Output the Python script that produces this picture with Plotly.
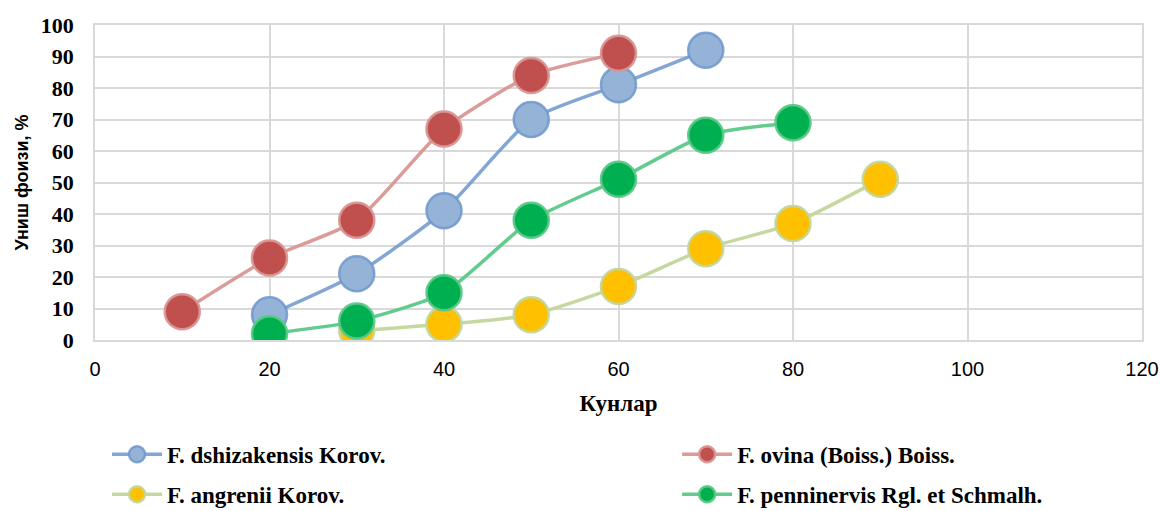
import plotly.graph_objects as go

x_dsh = [20, 30, 40, 50, 60, 70]
y_dsh = [8, 21, 41, 70, 81, 92]
x_ovi = [10, 20, 30, 40, 50, 60]
y_ovi = [9, 26, 38, 67, 84, 91]
x_ang = [30, 40, 50, 60, 70, 80, 90]
y_ang = [3, 5, 8, 17, 29, 37, 51]
x_pen = [20, 30, 40, 50, 60, 70, 80]
y_pen = [2, 6, 15, 38, 51, 65, 69]

x_ticks = [0, 20, 40, 60, 80, 100, 120]
y_ticks = [0, 10, 20, 30, 40, 50, 60, 70, 80, 90, 100]

series = [
    ("F. dshizakensis Korov.", x_dsh, y_dsh, "#95B3D7", "rgba(110,150,205,0.85)", "legend"),
    ("F. ovina (Boiss.) Boiss.", x_ovi, y_ovi, "#C0504D", "rgba(217,150,148,0.95)", "legend2"),
    ("F. angrenii Korov.", x_ang, y_ang, "#FFC000", "rgba(195,214,155,0.95)", "legend"),
    ("F. penninervis Rgl. et Schmalh.", x_pen, y_pen, "#00B050", "rgba(90,200,135,0.95)", "legend2"),
]

fig = go.Figure()
order = [2, 0, 1, 3]
for i in order:
    name, xs, ys, fill, edge, lg = series[i]
    fig.add_trace(go.Scatter(
        x=xs, y=ys, name=name, mode="lines+markers",
        line=dict(color=edge, width=3.5, shape="spline", smoothing=0.6),
        marker=dict(size=35, color=fill, line=dict(color=edge, width=2.5)),
        legend=lg, legendgroup=name, legendrank=i,
    ))

legend_font = dict(family="Liberation Serif", size=23, color="black", weight="bold")

fig.update_layout(
    width=1161, height=511,
    margin=dict(l=95, r=19, t=25, b=171, autoexpand=False),
    paper_bgcolor="white", plot_bgcolor="white",
    xaxis=dict(
        range=[0, 120], tickvals=x_ticks, showgrid=True, gridcolor="#D9D9D9", gridwidth=1.5,
        showline=True, linecolor="#D9D9D9", linewidth=1.5, mirror=True, zeroline=False,
        tickfont=dict(family="Liberation Sans", size=20, color="black"),
        ticklabelstandoff=10, ticklabeloverflow="allow",
        title=dict(text="<b>Кунлар</b>", font=dict(family="Liberation Serif", size=23, color="black"), standoff=16),
        ticks="", ticklen=0, automargin=False,
    ),
    yaxis=dict(
        range=[0, 100], tickvals=y_ticks, showgrid=True, gridcolor="#D9D9D9", gridwidth=1.5,
        showline=True, linecolor="#D9D9D9", linewidth=1.5, mirror=True, zeroline=False,
        tickfont=dict(family="Liberation Serif", size=22, color="black", weight="bold"),
        ticklabelstandoff=15,
        title=dict(text="<b>Униш фоизи, %</b>", font=dict(family="Liberation Sans", size=18, color="black"), standoff=8),
        ticks="", ticklen=0, automargin=False,
    ),
    legend=dict(
        x=0.0115, y=0.153, xref="paper", yref="container", xanchor="left", yanchor="top",
        orientation="v", tracegroupgap=7, font=legend_font,
        bgcolor="rgba(0,0,0,0)", itemwidth=50,
    ),
    legend2=dict(
        x=0.556, y=0.153, xref="paper", yref="container", xanchor="left", yanchor="top",
        orientation="v", tracegroupgap=7, font=legend_font,
        bgcolor="rgba(0,0,0,0)", itemwidth=50,
    ),
    showlegend=True,
)

fig.write_html(
    "out.html",
    config={"displayModeBar": False},
    post_script="document.body.style.margin='0';document.body.style.overflow='hidden';",
)
